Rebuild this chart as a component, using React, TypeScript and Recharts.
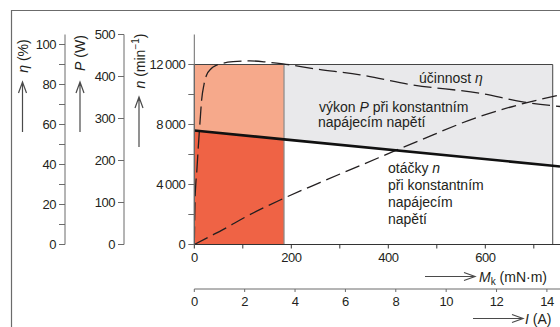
import {
  ComposedChart,
  Area,
  Line,
  XAxis,
  YAxis,
  ReferenceArea,
  ReferenceLine,
} from "recharts";

// torque (mN·m) -> efficiency (%)
const etaTorque = [0, 1.5, 3, 5, 8, 12, 15, 20, 25, 35, 45, 80, 115, 150, 183, 250, 342, 450, 589, 680, 754];
const etaValues = [0, 22, 30, 36, 48, 62, 72, 80, 84.5, 88, 89.5, 91.4, 91.8, 91.2, 90.3, 87.8, 84.8, 79.8, 75.6, 71.2, 69];

// torque (mN·m) -> power (W)
const powerTorque = [0, 30, 60, 108, 177, 260, 342, 459, 589, 680, 754];
const powerValues = [0, 18, 36, 67, 106, 148, 188, 245, 305, 336, 356];

// torque (mN·m) -> speed (min^-1)
const speedTorque = [0, 185, 739, 754];
const speedValues = [7600, 7010, 5250, 5200];
const speedLimit = 12000;

const speedTicks = [0, 2000, 4000, 6000, 8000, 10000, 12000];
const powerTicks = [0, 100, 200, 300, 400, 500];
const etaTicks = [0, 10, 20, 30, 40, 50, 60, 70, 80, 90, 100];
const torqueTicks = [0, 100, 200, 300, 400, 500, 600, 700];
const currentTicks = [0, 2, 4, 6, 8, 10, 12, 14];

const etaData = etaTorque.map((m, i) => ({ m, eta: etaValues[i] }));
const powerData = powerTorque.map((m, i) => ({ m, p: powerValues[i] }));
const speedData = speedTorque.map((m, i) => ({ m, n: speedValues[i], band: [speedValues[i], speedLimit] }));
const ratedData = speedData.slice(0, 2);
const overloadData = speedData.slice(1, 3);
const currentData = currentTicks.map((i) => ({ i }));

// axis ids sort alphabetically from the plot outwards
const X_M = "a_torque";
const X_I = "b_current";
const Y_N = "a_speed";
const Y_P = "b_power";
const Y_ETA = "c_eta";

const INK = "#231f20";
const AXIS = "#6b6b6b";
const tickStyle = { fontSize: 13, fill: INK, letterSpacing: -0.5 };

function fmtThousands(v: number) {
  if (v === 0) return "0";
  const s = String(v);
  return s.slice(0, s.length - 3) + "\u2009" + s.slice(-3);
}

function UpArrow({ x, y1, y2 }: { x: number; y1: number; y2: number }) {
  return (
    <path
      d={`M${x},${y1} L${x},${y2} M${x - 4},${y2 + 11} L${x},${y2} L${x + 4},${y2 + 11}`}
      stroke="#4a4a4a"
      strokeWidth={1.2}
      fill="none"
    />
  );
}

function RightArrow({ x1, x2, y }: { x1: number; x2: number; y: number }) {
  return (
    <path
      d={`M${x1},${y} L${x2},${y} M${x2 - 11},${y - 4} L${x2},${y} L${x2 - 11},${y + 4}`}
      stroke="#4a4a4a"
      strokeWidth={1.2}
      fill="none"
    />
  );
}

function VTitle({ x, y, children }: { x: number; y: number; children: React.ReactNode }) {
  return (
    <text
      x={x}
      y={y}
      transform={`rotate(-90 ${x} ${y})`}
      textAnchor="middle"
      dominantBaseline="central"
      fontSize={14}
      fill={INK}
    >
      {children}
    </text>
  );
}

export default function App() {
  return (
    <div
      style={{
        position: "fixed",
        left: 0,
        top: 0,
        width: 560,
        height: 327,
        overflow: "hidden",
        background: "#fff",
        fontFamily: "'Liberation Sans', Arial, sans-serif",
      }}
    >
      <ComposedChart
        width={560}
        height={327}
        data={currentData}
        margin={{ top: 34.5, right: 0, bottom: 0, left: 10 }}
      >
        <XAxis
          xAxisId={X_M}
          type="number"
          dataKey="m"
          domain={[0, 754]}
          allowDataOverflow
          ticks={torqueTicks}
          tickFormatter={(v) => (v % 200 === 0 ? String(v) : "")}
          height={44.5}
          tickSize={4}
          tickMargin={4}
          stroke="#333"
          tick={tickStyle}
        />
        <XAxis
          xAxisId={X_I}
          type="number"
          dataKey="i"
          domain={[0, 14.52]}
          allowDataOverflow
          ticks={currentTicks}
          height={38}
          tickSize={3}
          tickMargin={5}
          stroke={AXIS}
          tick={tickStyle}
        />
        <YAxis
          yAxisId={Y_N}
          domain={[0, 14000]}
          ticks={speedTicks}
          tickFormatter={(v) => (v % 4000 === 0 ? fmtThousands(v) : "")}
          width={70.3}
          tickSize={6}
          tickMargin={3}
          stroke={AXIS}
          tick={tickStyle}
        />
        <YAxis
          yAxisId={Y_P}
          domain={[0, 500]}
          ticks={powerTicks}
          width={59}
          tickSize={6}
          tickMargin={3}
          stroke={AXIS}
          tick={tickStyle}
        />
        <YAxis
          yAxisId={Y_ETA}
          domain={[0, 105]}
          ticks={etaTicks}
          tickFormatter={(v) => (v % 20 === 0 ? String(v) : "")}
          width={55}
          tickSize={6}
          tickMargin={3}
          stroke={AXIS}
          tick={tickStyle}
        />

        <Area
          xAxisId={X_M}
          yAxisId={Y_N}
          data={ratedData}
          dataKey="n"
          type="linear"
          fill="#ef6345"
          fillOpacity={1}
          stroke="none"
          isAnimationActive={false}
        />
        <Area
          xAxisId={X_M}
          yAxisId={Y_N}
          data={ratedData}
          dataKey="band"
          type="linear"
          fill="#f6a98b"
          fillOpacity={1}
          stroke="none"
          isAnimationActive={false}
        />
        <Area
          xAxisId={X_M}
          yAxisId={Y_N}
          data={overloadData}
          dataKey="band"
          type="linear"
          fill="#e9e9eb"
          fillOpacity={1}
          stroke="none"
          isAnimationActive={false}
        />
        <ReferenceArea
          xAxisId={X_M}
          yAxisId={Y_N}
          x1={0}
          x2={739}
          y1={0}
          y2={speedLimit}
          fill="none"
          stroke="#444"
          strokeWidth={1}
        />
        <ReferenceLine
          xAxisId={X_M}
          yAxisId={Y_N}
          segment={[
            { x: 185, y: 0 },
            { x: 185, y: speedLimit },
          ]}
          stroke="#8a8a8a"
          strokeWidth={1.2}
        />

        <Line
          xAxisId={X_M}
          yAxisId={Y_P}
          data={powerData}
          dataKey="p"
          type="monotone"
          stroke={INK}
          strokeWidth={1.3}
          strokeDasharray="15 6"
          dot={false}
          isAnimationActive={false}
        />
        <Line
          xAxisId={X_M}
          yAxisId={Y_ETA}
          data={etaData}
          dataKey="eta"
          type="monotone"
          stroke={INK}
          strokeWidth={1.3}
          strokeDasharray="18 6"
          dot={false}
          isAnimationActive={false}
        />
        <Line
          xAxisId={X_M}
          yAxisId={Y_N}
          data={speedData}
          dataKey="n"
          type="linear"
          stroke="#111"
          strokeWidth={2.6}
          dot={false}
          isAnimationActive={false}
        />
      </ComposedChart>

      <svg
        width={560}
        height={327}
        style={{ position: "absolute", left: 0, top: 0, pointerEvents: "none" }}
      >
        <path d="M11.5,327 L11.5,10.5 L560,10.5" stroke="#6b6b6b" strokeWidth={1.2} fill="none" />

        <VTitle x={22.5} y={56}>
          <tspan fontStyle="italic">η</tspan> (%)
        </VTitle>
        <UpArrow x={22.5} y1={132} y2={82} />

        <VTitle x={80} y={53}>
          <tspan fontStyle="italic">P</tspan> (W)
        </VTitle>
        <UpArrow x={80} y1={132} y2={82} />

        <VTitle x={140} y={61}>
          <tspan fontStyle="italic">n</tspan> (min
          <tspan fontSize={10} dy={-5}>−1</tspan>
          <tspan dy={5}>)</tspan>
        </VTitle>
        <UpArrow x={139} y1={147} y2={97} />

        <RightArrow x1={425} x2={475} y={276.5} />
        <text x={479} y={281.5} fontSize={14} fill={INK}>
          <tspan fontStyle="italic">M</tspan>
          <tspan fontSize={10} dy={3}>k</tspan>
          <tspan dy={-3}> (mN·m)</tspan>
        </text>

        <RightArrow x1={473} x2={523} y={318.5} />
        <text x={525} y={323.5} fontSize={14} fill={INK}>
          <tspan fontStyle="italic">I</tspan> (A)
        </text>

        <g fontSize={14} fill={INK}>
          <text x={419} y={83}>
            účinnost <tspan fontStyle="italic">η</tspan>
          </text>
          <text x={319} y={111.5}>
            výkon <tspan fontStyle="italic">P</tspan> při konstantním
          </text>
          <text x={318} y={126.5}>napájecím napětí</text>
          <text x={388} y={172.5}>
            otáčky <tspan fontStyle="italic">n</tspan>
          </text>
          <text x={388} y={189.5}>při konstantním</text>
          <text x={388} y={206.5}>napájecím</text>
          <text x={388} y={223.5}>napětí</text>
        </g>
      </svg>
    </div>
  );
}
